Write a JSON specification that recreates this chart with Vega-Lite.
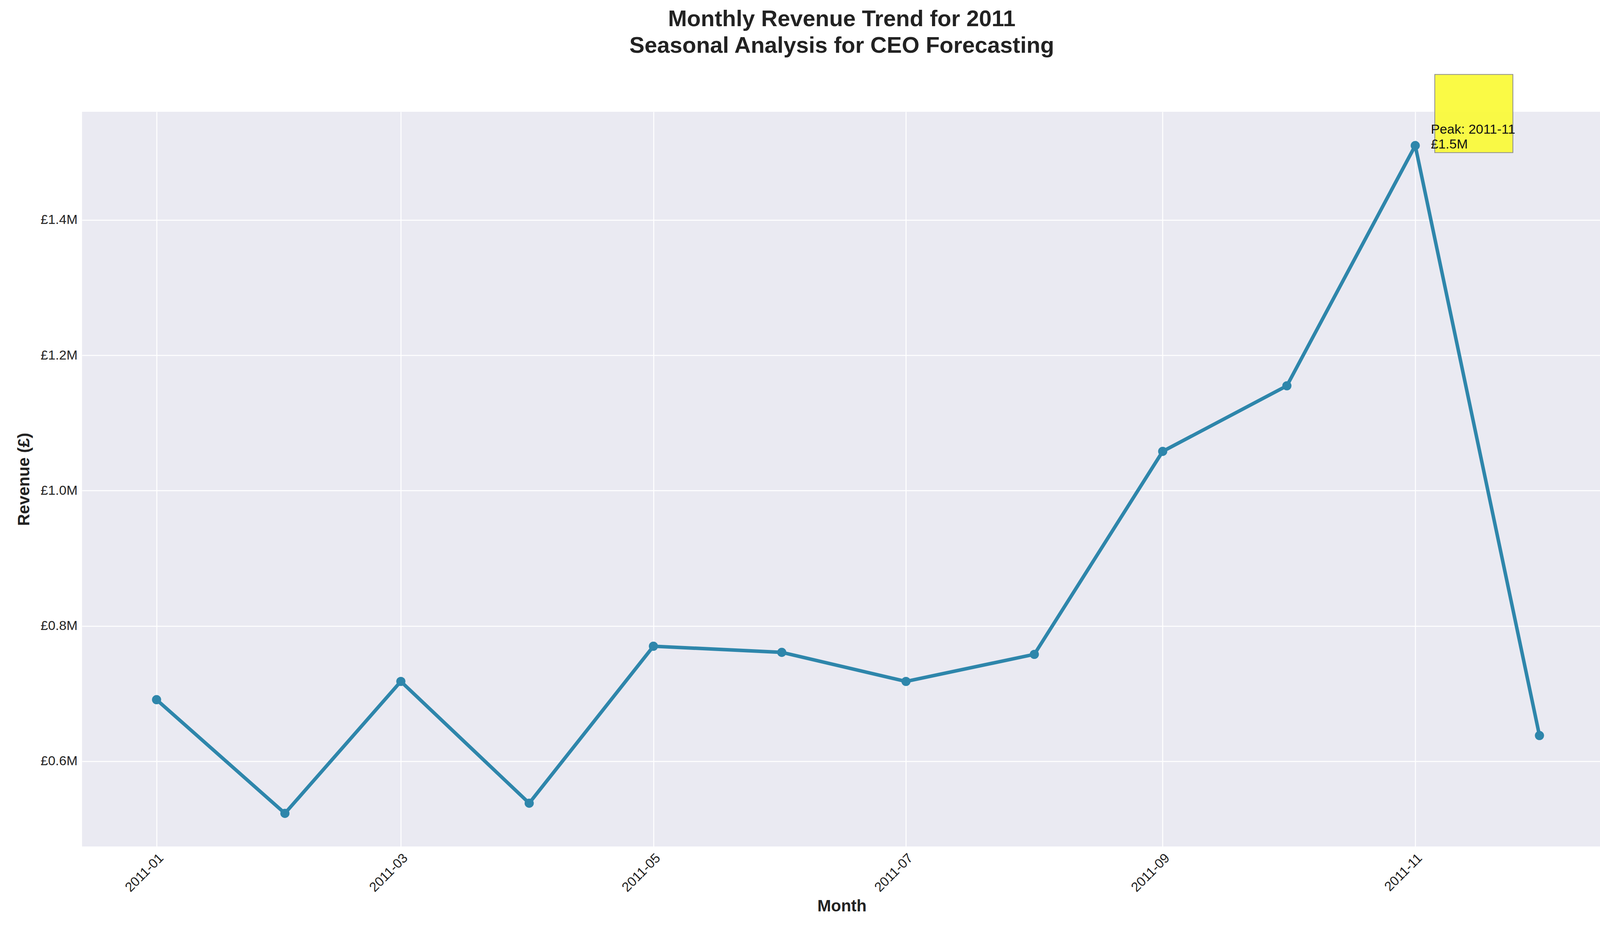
{
  "$schema": "https://vega.github.io/schema/vega-lite/v6.json",
  "width": 3890,
  "height": 1880,
  "padding": {"left": 40, "top": 20, "right": 20, "bottom": 10},
  "background": "white",
  "config": {
    "font": "Liberation Sans",
    "view": {"fill": "#EAEAF2", "stroke": null},
    "axis": {"domain": false, "ticks": false, "gridColor": "white", "gridWidth": 2.5, "labelFontSize": 34, "labelColor": "#222", "titleFontSize": 42, "titleFontWeight": "bold", "titleColor": "#222", "labelPadding": 12}
  },
  "title": {
    "text": ["Monthly Revenue Trend for 2011", "Seasonal Analysis for CEO Forecasting"],
    "fontSize": 58, "fontWeight": "bold", "color": "#222", "offset": 40, "lineHeight": 68
  },
  "data": {
    "values": [
      {"month": "2011-01-01", "revenue": 0.691},
      {"month": "2011-02-01", "revenue": 0.523},
      {"month": "2011-03-01", "revenue": 0.718},
      {"month": "2011-04-01", "revenue": 0.538},
      {"month": "2011-05-01", "revenue": 0.770},
      {"month": "2011-06-01", "revenue": 0.761},
      {"month": "2011-07-01", "revenue": 0.718},
      {"month": "2011-08-01", "revenue": 0.758},
      {"month": "2011-09-01", "revenue": 1.058},
      {"month": "2011-10-01", "revenue": 1.155},
      {"month": "2011-11-01", "revenue": 1.510},
      {"month": "2011-12-01", "revenue": 0.638}
    ]
  },
  "encoding": {
    "x": {
      "field": "month", "type": "temporal", "title": "Month",
      "scale": {"type": "utc", "domain": [{"year": 2010, "month": 12, "date": 14, "utc": true}, {"year": 2011, "month": 12, "date": 16, "utc": true}]},
      "axis": {
        "labelExpr": "utcFormat(datum.value, '%Y-%m')", "labelAngle": -45, "labelAlign": "right", "labelBaseline": "top", "titlePadding": 10,
        "values": [
          {"year": 2011, "month": 1, "date": 1, "utc": true},
          {"year": 2011, "month": 3, "date": 1, "utc": true},
          {"year": 2011, "month": 5, "date": 1, "utc": true},
          {"year": 2011, "month": 7, "date": 1, "utc": true},
          {"year": 2011, "month": 9, "date": 1, "utc": true},
          {"year": 2011, "month": 11, "date": 1, "utc": true}
        ]
      }
    },
    "y": {
      "field": "revenue", "type": "quantitative", "title": "Revenue (£)",
      "scale": {"domain": [0.474, 1.56], "nice": false, "zero": false},
      "axis": {"values": [0.6, 0.8, 1.0, 1.2, 1.4], "labelExpr": "'£' + format(datum.value, '.1f') + 'M'", "titlePadding": 20}
    }
  },
  "layer": [
    {"mark": {"type": "line", "color": "#2E86AB", "strokeWidth": 9}},
    {"mark": {"type": "point", "filled": true, "color": "#2E86AB", "opacity": 1, "size": 550}},
    {
      "transform": [{"filter": "datum.revenue > 1.5"}],
      "mark": {"type": "point", "shape": "square", "filled": true, "color": "#FAFA3C", "stroke": "#888", "strokeWidth": 2, "opacity": 0.95, "size": 40000, "dx": 0, "xOffset": 150, "yOffset": -82}
    },
    {
      "transform": [{"filter": "datum.revenue > 1.5"}],
      "mark": {"type": "text", "align": "left", "baseline": "bottom", "dx": 40, "dy": -24, "fontSize": 34, "color": "#111", "lineHeight": 38},
      "encoding": {"text": {"value": ["Peak: 2011-11", "£1.5M"]}}
    }
  ]
}
